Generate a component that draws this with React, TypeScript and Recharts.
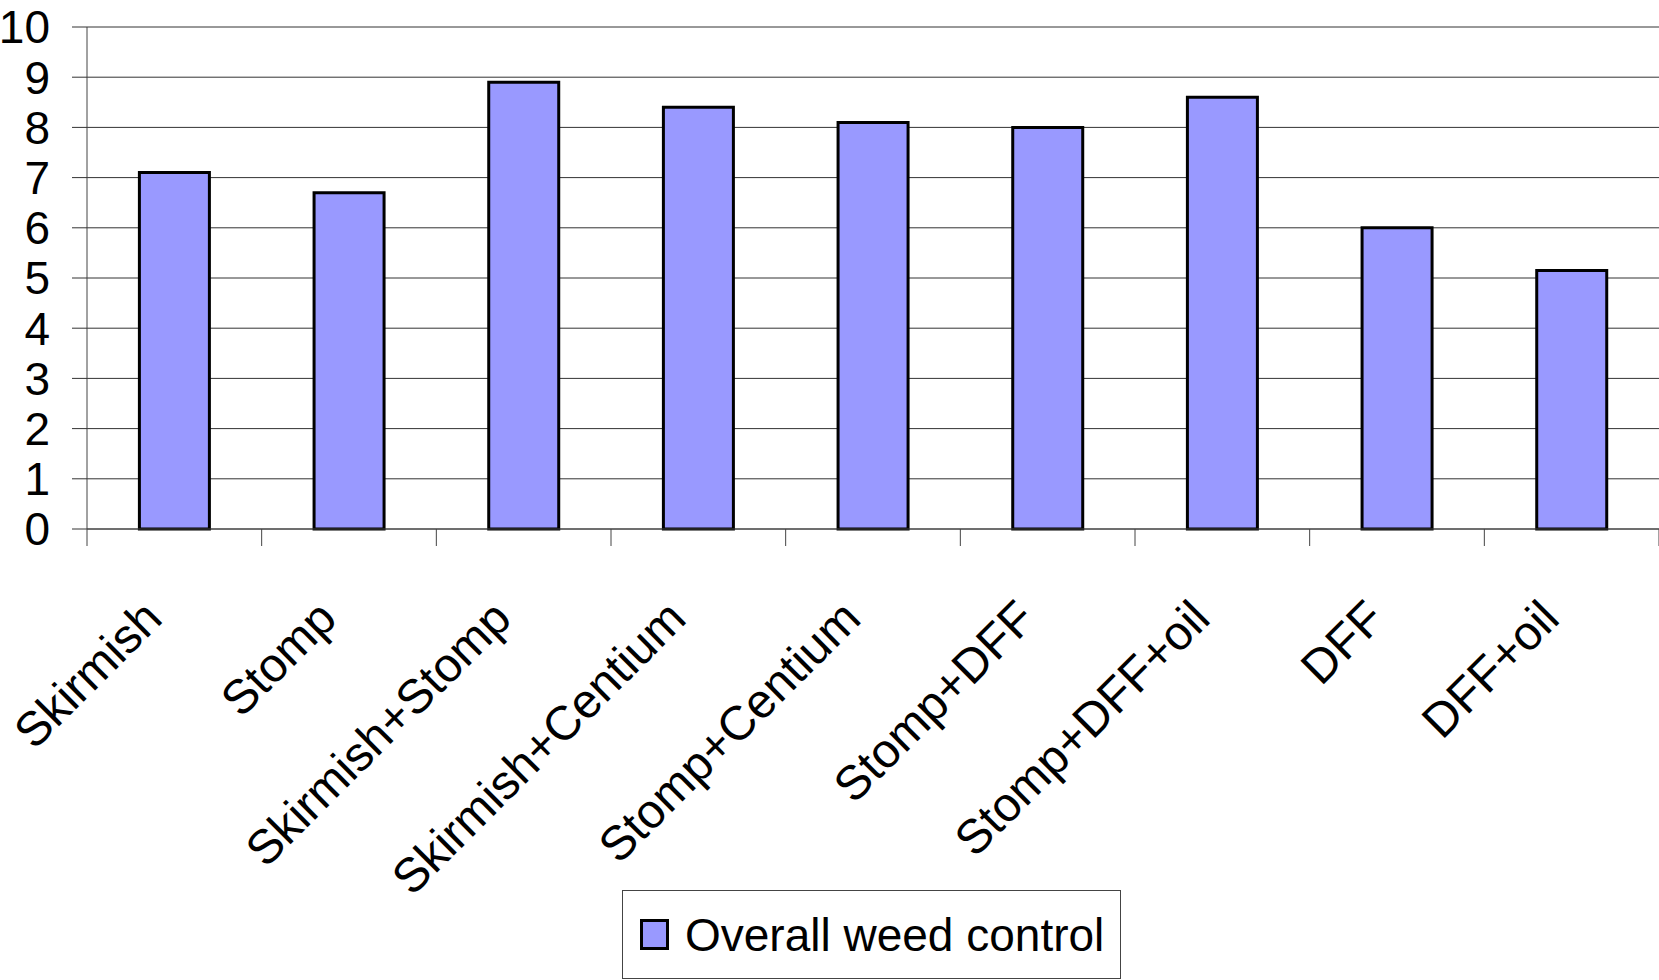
import React from 'react';
import { BarChart, Bar, XAxis, YAxis, CartesianGrid } from 'recharts';

const treatments = [
  'Skirmish',
  'Stomp',
  'Skirmish+Stomp',
  'Skirmish+Centium',
  'Stomp+Centium',
  'Stomp+DFF',
  'Stomp+DFF+oil',
  'DFF',
  'DFF+oil',
];
const weedControl = [7.1, 6.7, 8.9, 8.4, 8.1, 8.0, 8.6, 6.0, 5.15];
const yTicks = [0, 1, 2, 3, 4, 5, 6, 7, 8, 9, 10];

const data = treatments.map((name, i) => ({ name, value: weedControl[i] }));

const FONT = '"Liberation Sans", Arial, sans-serif';
const TICK_LEN = 17;

// rotated category label + tick marks on the category boundaries (Excel style)
const CategoryTick = (props: any) => {
  const { x, y, payload } = props;
  const half = payload.offset || 0;
  const tx = x - 10;
  const ty = y + 92;
  const isLast = payload.index === treatments.length - 1;
  return (
    <g>
      <line x1={x - half} y1={y} x2={x - half} y2={y + TICK_LEN} stroke="#444" />
      {isLast && <line x1={x + half} y1={y} x2={x + half} y2={y + TICK_LEN} stroke="#444" />}
      <text
        x={tx}
        y={ty}
        transform={`rotate(-45 ${tx} ${ty})`}
        textAnchor="end"
        fontSize={48}
        fontFamily={FONT}
        fill="#000"
      >
        {payload.value}
      </text>
    </g>
  );
};

const App: React.FC = () => {
  return (
    <div style={{ position: 'absolute', left: 0, top: 0, width: 1659, height: 980, background: '#fff' }}>
      <BarChart
        width={1659}
        height={980}
        data={data}
        margin={{ top: 27, right: 0, left: 0, bottom: 0 }}
        barCategoryGap="30%"
      >
        <CartesianGrid vertical={false} stroke="#333" strokeWidth={1} />
        <XAxis
          dataKey="name"
          interval={0}
          height={451}
          tickSize={0}
          tickMargin={0}
          tickLine={false}
          axisLine={{ stroke: '#444' }}
          tick={<CategoryTick />}
        />
        <YAxis
          domain={[0, 10]}
          ticks={yTicks}
          interval={0}
          width={87}
          tickSize={15}
          tickMargin={22}
          tickLine={{ stroke: '#333' }}
          axisLine={{ stroke: '#444' }}
          tick={{ fontSize: 46, fontFamily: FONT, fill: '#000' }}
        />
        <Bar
          dataKey="value"
          fill="#9999FF"
          stroke="#000"
          strokeWidth={3}
          isAnimationActive={false}
        />
      </BarChart>
      <div
        style={{
          position: 'absolute',
          left: 622,
          top: 890,
          width: 497,
          height: 87,
          border: '1px solid #444',
          display: 'flex',
          alignItems: 'center',
          fontFamily: FONT,
          fontSize: 46,
          color: '#000',
          boxSizing: 'content-box',
        }}
      >
        <span
          style={{
            display: 'inline-block',
            width: 23,
            height: 25,
            background: '#9999FF',
            border: '3px solid #000',
            marginLeft: 17,
            marginRight: 16,
          }}
        />
        <span>Overall weed control</span>
      </div>
    </div>
  );
};

export default App;
